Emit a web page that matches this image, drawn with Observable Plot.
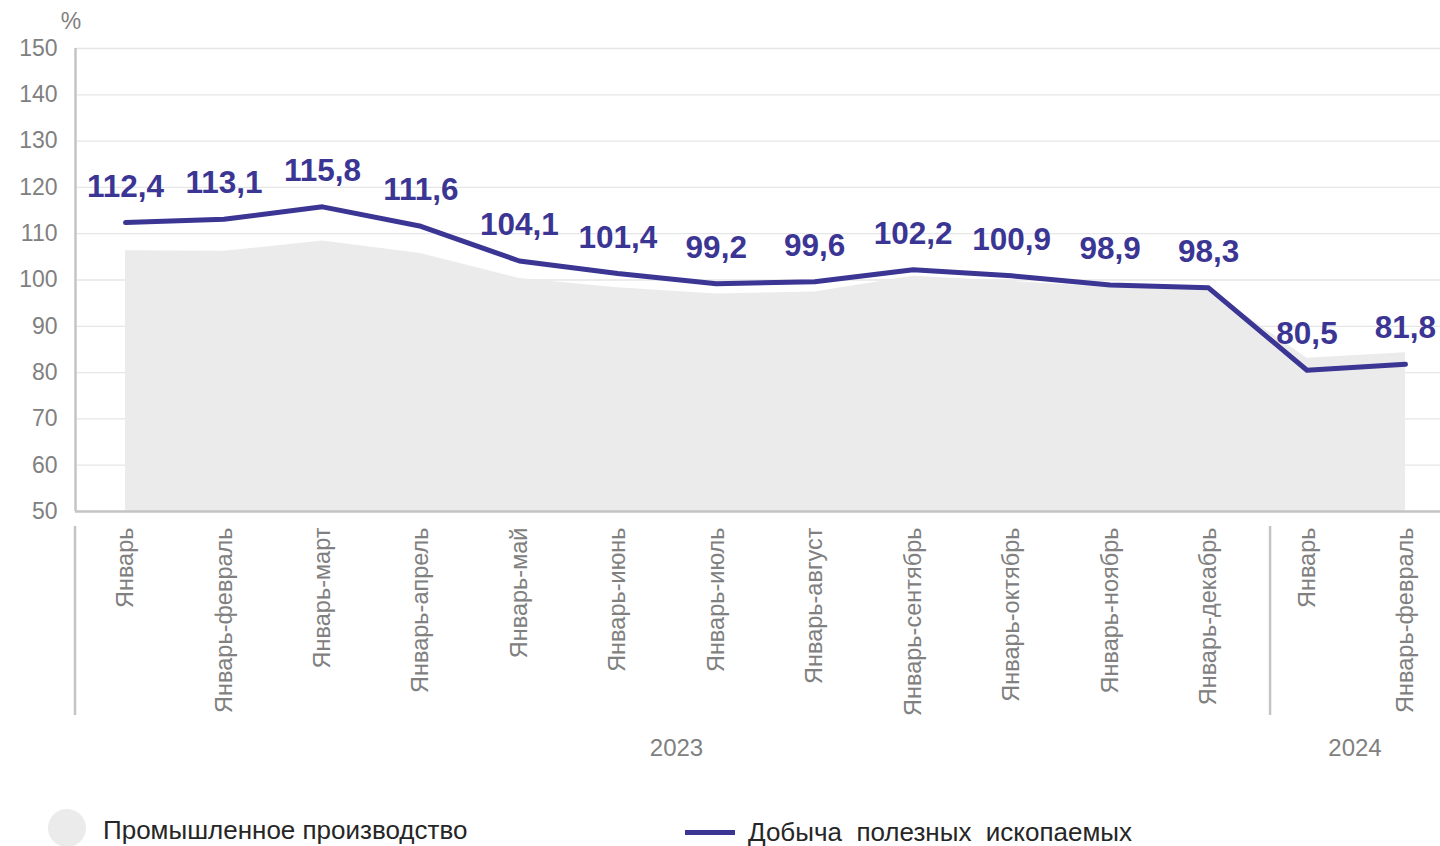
<!DOCTYPE html>
<html>
<head>
<meta charset="utf-8">
<script src="https://cdn.jsdelivr.net/npm/d3@7"></script>
<script src="https://cdn.jsdelivr.net/npm/@observablehq/plot@0.6"></script>
<style>
  html, body { margin: 0; padding: 0; background: #fff; }
  body { width: 1440px; height: 846px; overflow: hidden; font-family: "Liberation Sans", Arial, sans-serif; }
  #chart { position: relative; }
  #legend { position: relative; height: 46px; overflow: hidden; }
  .lg { position: absolute; font-size: 26px; color: #262626; white-space: pre; line-height: 1; }
  .dot { position: absolute; width: 38px; height: 38px; border-radius: 50%; background: #ebebeb; }
  .ln { position: absolute; width: 50px; height: 5px; background: #3b3594; }
</style>
</head>
<body>
<div id="chart"></div>
<div id="legend">
  <div class="dot" style="left:48px; top:9px;"></div>
  <div class="lg" style="left:103px; top:17px;">Промышленное производство</div>
  <div class="ln" style="left:685px; top:30px;"></div>
  <div class="lg" style="left:748px; top:19px;">Добыча  полезных  ископаемых</div>
</div>
<script>
// ---- data ----
const periods = ["Январь","Январь-февраль","Январь-март","Январь-апрель","Январь-май","Январь-июнь","Январь-июль","Январь-август","Январь-сентябрь","Январь-октябрь","Январь-ноябрь","Январь-декабрь","Январь","Январь-февраль"];
const years = ["2023","2023","2023","2023","2023","2023","2023","2023","2023","2023","2023","2023","2024","2024"];
const mining = [112.4,113.1,115.8,111.6,104.1,101.4,99.2,99.6,102.2,100.9,98.9,98.3,80.5,81.8];
const industry = [106.3,106.2,108.4,105.7,100.3,98.3,97.0,97.4,100.8,99.7,98.4,97.9,83.1,84.3];
const yTicks = [50,60,70,80,90,100,110,120,130,140,150];

const data = periods.map((p, i) => ({i, period: p, year: years[i], mining: mining[i], industry: industry[i]}));
const yearNames = Array.from(new Set(years));
const groups = yearNames.map(y => {
  const idx = data.filter(d => d.year === y).map(d => d.i);
  return {year: y, start: d3.min(idx), end: d3.max(idx)};
});

const W = 1440, H = 800;
const blue = "#3b3594";
const gray = "#808080";
const fmt = v => v.toFixed(1).replace(".", ",");

const chart = Plot.plot({
  width: W,
  height: H,
  marginLeft: 75,
  marginRight: 0,
  marginTop: 48,
  marginBottom: H - 511,
  style: {fontFamily: "'Liberation Sans', Arial, sans-serif", background: "#fff", overflow: "visible"},
  x: {type: "linear", domain: [-0.508, 13.356]},
  y: {domain: [50, 150]},
  marks: [
    Plot.gridY(yTicks, {stroke: "#e6e6e6", strokeOpacity: 1, strokeWidth: 1.3}),
    Plot.areaY(data, {x: "i", y1: 50, y2: "industry", fill: "#ebebeb"}),
    Plot.ruleY([50], {stroke: "#c4c4c4", strokeWidth: 2.5}),
    Plot.ruleX([-0.508], {stroke: "#c4c4c4", strokeWidth: 2.5}),
    Plot.lineY(data, {x: "i", y: "mining", stroke: blue, strokeWidth: 5, strokeLinejoin: "round", strokeLinecap: "round"}),
    Plot.text(data, {x: "i", y: "mining", text: d => fmt(d.mining), dy: -36, fill: blue, fontSize: 31.5, fontWeight: "bold"}),
    Plot.axisY(yTicks, {tickSize: 0, tickPadding: 18, fontSize: 23, fill: gray, label: null}),
    Plot.axisX(data.map(d => d.i), {tickSize: 0, tickPadding: 16, tickRotate: -90, fontSize: 23.5, fill: gray, label: null, tickFormat: i => periods[i]})
  ]
});

document.getElementById("chart").appendChild(chart);

// separators and year labels in the bottom margin, positioned with Plot's x scale
const sx = chart.scale("x");
const svg = d3.select(chart);
const bounds = [sx.domain[0]];
groups.forEach((g, k) => {
  if (k < groups.length - 1) bounds.push((g.end + groups[k + 1].start) / 2 + 0.13);
});
bounds.push(sx.domain[1]);
const xpx = v => sx.apply(v);
const sepG = svg.append("g");
bounds.slice(0, -1).forEach(b => {
  sepG.append("line")
    .attr("x1", xpx(b)).attr("x2", xpx(b))
    .attr("y1", 526).attr("y2", 715)
    .attr("stroke", "#c4c4c4").attr("stroke-width", 2.5);
});
groups.forEach((g, k) => {
  const cx = (xpx(bounds[k]) + xpx(bounds[k + 1])) / 2 + (k === 0 ? 4 : 0);
  svg.append("text")
    .attr("x", cx).attr("y", 748).attr("dy", "0.35em")
    .attr("text-anchor", "middle")
    .attr("fill", gray).attr("font-size", 24)
    .text(g.year);
});
svg.append("text")
  .attr("x", 71).attr("y", 21).attr("dy", "0.35em")
  .attr("text-anchor", "middle")
  .attr("fill", gray).attr("font-size", 23)
  .text("%");
</script>
</body>
</html>
